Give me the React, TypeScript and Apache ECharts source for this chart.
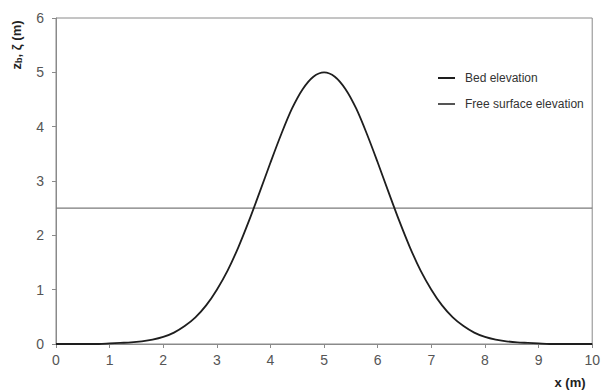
import React, { useEffect, useRef } from "react";
import * as echarts from "echarts";

const xPositions: number[] = [
  0, 0.2, 0.4, 0.6, 0.8, 1, 1.2, 1.4, 1.6, 1.8, 2, 2.2, 2.4, 2.6, 2.8, 3, 3.2, 3.4, 3.6, 3.8, 4, 4.2, 4.4, 4.6, 4.8,
  5, 5.2, 5.4, 5.6, 5.8, 6, 6.2, 6.4, 6.6, 6.8, 7, 7.2, 7.4, 7.6, 7.8, 8, 8.2, 8.4, 8.6, 8.8, 9, 9.2, 9.4, 9.6, 9.8, 10,
];
const bedElevation: number[] = [
  0, 0, 0, 0, 0, 0.01, 0.02, 0.03, 0.05, 0.08, 0.13, 0.21, 0.33, 0.49, 0.71, 1.0, 1.35, 1.78, 2.27, 2.8, 3.34, 3.86, 4.33, 4.69, 4.92,
  5.0, 4.92, 4.69, 4.33, 3.86, 3.34, 2.8, 2.27, 1.78, 1.35, 1.0, 0.71, 0.49, 0.33, 0.21, 0.13, 0.08, 0.05, 0.03, 0.02, 0.01, 0, 0, 0, 0, 0,
];
const surfaceX: number[] = [0, 10];
const surfaceElevation: number[] = [2.5, 2.5];
const seriesNames: string[] = ["Bed elevation", "Free surface elevation"];

const FONT = "'Liberation Sans', Arial, sans-serif";

export default function App() {
  const ref = useRef<HTMLDivElement>(null);
  useEffect(() => {
    if (!ref.current) return;
    const chart = echarts.init(ref.current, undefined, { renderer: "svg" });
    chart.setOption({
      animation: false,
      backgroundColor: "#ffffff",
      textStyle: { fontFamily: FONT },
      grid: {
        left: 56,
        right: 8,
        top: 18,
        bottom: 48,
        show: true,
        borderColor: "#8a8a8a",
        borderWidth: 1,
        backgroundColor: "transparent",
      },
      xAxis: {
        type: "value",
        min: 0,
        max: 10,
        interval: 1,
        axisLine: { show: true, onZero: false, lineStyle: { color: "#8a8a8a", width: 1 } },
        axisTick: { show: true, inside: false, length: 4, lineStyle: { color: "#8a8a8a" } },
        axisLabel: { color: "#555", fontSize: 14, margin: 9, fontFamily: FONT },
        splitLine: { show: false },
      },
      yAxis: {
        type: "value",
        min: 0,
        max: 6,
        interval: 1,
        axisLine: { show: true, lineStyle: { color: "#8a8a8a", width: 1 } },
        axisTick: { show: true, inside: false, length: 4, lineStyle: { color: "#8a8a8a" } },
        axisLabel: { color: "#555", fontSize: 14, margin: 12, fontFamily: FONT },
        splitLine: { show: false },
      },
      legend: {
        orient: "vertical",
        left: 433,
        top: 67,
        itemWidth: 17,
        itemHeight: 2,
        itemGap: 14,
        icon: "rect",
        textStyle: { color: "#333", fontSize: 12, fontFamily: FONT, padding: [0, 0, 0, 5] },
        data: seriesNames,
      },
      series: [
        {
          name: seriesNames[0],
          type: "line",
          data: xPositions.map((x, i) => [x, bedElevation[i]]),
          smooth: 0.3,
          showSymbol: false,
          symbol: "none",
          lineStyle: { color: "#1e1e1e", width: 1.8 },
          itemStyle: { color: "#1e1e1e" },
          z: 3,
        },
        {
          name: seriesNames[1],
          type: "line",
          data: surfaceX.map((x, i) => [x, surfaceElevation[i]]),
          showSymbol: false,
          symbol: "none",
          lineStyle: { color: "#7a7a7a", width: 1.3 },
          itemStyle: { color: "#555" },
          z: 2,
        },
      ],
      graphic: [
        {
          type: "text",
          x: 16,
          y: 45,
          rotation: Math.PI / 2,
          style: {
            text: "{a|z}{s|b}{a|, ζ (m)}",
            align: "center",
            verticalAlign: "middle",
            rich: {
              a: { fontSize: 13, fontWeight: "bold", fill: "#222", fontFamily: FONT },
              s: { fontSize: 9, fontWeight: "bold", fill: "#222", fontFamily: FONT, verticalAlign: "bottom", padding: [5, 0, 0, 0] },
            },
          },
        },
        {
          type: "text",
          x: 570,
          y: 382,
          style: {
            text: "x (m)",
            align: "center",
            verticalAlign: "middle",
            fontSize: 13,
            fontWeight: "bold",
            fill: "#222",
            fontFamily: FONT,
          },
        },
      ],
    });
    return () => chart.dispose();
  }, []);
  return <div ref={ref} style={{ position: "fixed", left: 0, top: 0, width: 603, height: 392 }} />;
}
